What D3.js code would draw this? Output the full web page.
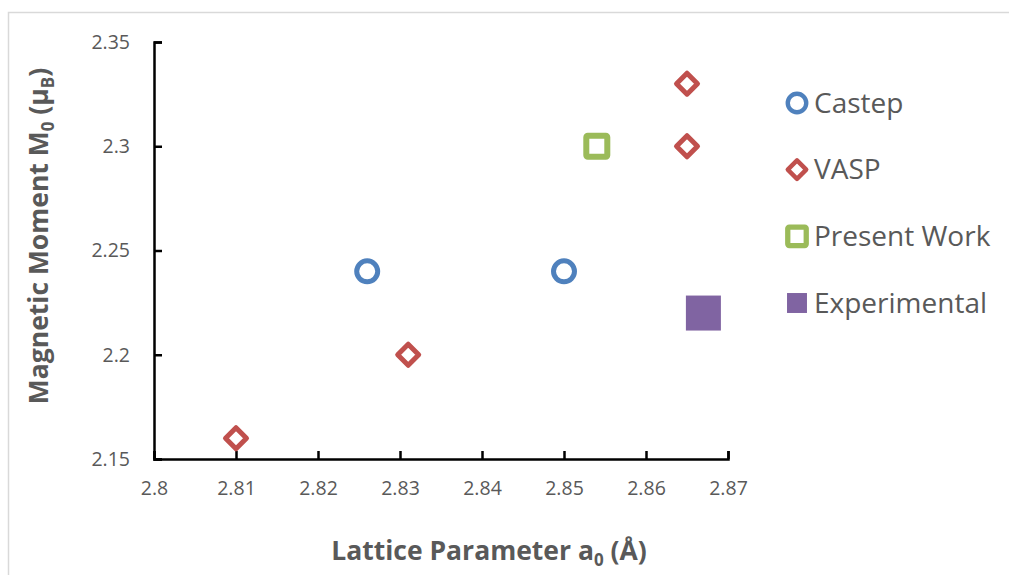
<!DOCTYPE html>
<html>
<head>
<meta charset="utf-8">
<script src="https://cdn.jsdelivr.net/npm/d3@7"></script>
<style>
    body { margin: 0; background: #fff; }
    svg { display: block; font-family: "Open Sans", sans-serif; }
</style>
</head>
<body>
<div id="chart"></div>
<script>
// Data
const castepX = [2.826, 2.85];
const castepY = [2.24, 2.24];
const vaspX = [2.81, 2.831, 2.865, 2.865];
const vaspY = [2.16, 2.2, 2.33, 2.3];
const presentX = [2.854];
const presentY = [2.3];
const expX = [2.867];
const expY = [2.22];

const xTicks = [2.8, 2.81, 2.82, 2.83, 2.84, 2.85, 2.86, 2.87];
const yTicks = [2.15, 2.2, 2.25, 2.3, 2.35];
const seriesNames = ['Castep', 'VASP', 'Present Work', 'Experimental'];

const width = 1009;
const height = 575;
const textColor = '#595959';

const svg = d3.select('#chart')
    .append('svg')
    .attr('width', width)
    .attr('height', height);

// chart area border (only top and left show in the picture)
svg.append('rect')
    .attr('x', 8.5)
    .attr('y', 12.5)
    .attr('width', 1200)
    .attr('height', 800)
    .attr('fill', 'none')
    .attr('stroke', '#d9d9d9')
    .attr('stroke-width', 1.5);

const x = d3.scaleLinear().domain([2.8, 2.87]).range([154, 728]);
const y = d3.scaleLinear().domain([2.15, 2.35]).range([459, 42]);

// Axes
const xAxis = d3.axisBottom(x)
    .tickValues(xTicks)
    .tickFormat(d3.format('~g'))
    .tickSize(-8)
    .tickPadding(22);

const yAxis = d3.axisLeft(y)
    .tickValues(yTicks)
    .tickFormat(d3.format('~g'))
    .tickSize(-8)
    .tickPadding(24);

const gx = svg.append('g')
    .attr('transform', `translate(0,${y(2.15)})`)
    .call(xAxis);

const gy = svg.append('g')
    .attr('transform', `translate(${x(2.8)},0)`)
    .call(yAxis);

[gx, gy].forEach(g => {
    g.select('.domain').attr('stroke', '#000').attr('stroke-width', 2.5);
    g.selectAll('.tick line').attr('stroke', '#000').attr('stroke-width', 2.5);
    g.selectAll('.tick text')
        .attr('fill', textColor)
        .attr('font-size', 19.5)
        .attr('font-family', '"Open Sans", sans-serif');
});

// Axis titles
const xTitle = svg.append('text')
    .attr('x', 489)
    .attr('y', 560)
    .attr('text-anchor', 'middle')
    .attr('font-size', 26.5)
    .attr('font-weight', 'bold')
    .attr('fill', textColor);
xTitle.append('tspan').text('Lattice Parameter a');
xTitle.append('tspan').attr('font-size', 17).attr('dy', 6).text('0');
xTitle.append('tspan').attr('dy', -6).text(' (Å)');

const yTitle = svg.append('text')
    .attr('transform', 'translate(48,236) rotate(-90)')
    .attr('text-anchor', 'middle')
    .attr('font-size', 26.5)
    .attr('font-weight', 'bold')
    .attr('fill', textColor);
yTitle.append('tspan').text('Magnetic Moment M');
yTitle.append('tspan').attr('font-size', 17).attr('dy', 6).text('0');
yTitle.append('tspan').attr('dy', -6).text(' (μ');
yTitle.append('tspan').attr('font-size', 17).attr('dy', 6).text('B');
yTitle.append('tspan').attr('dy', -6).text(')');

// Marker drawing helpers
const colors = {
    'Castep': '#4f81bd',
    'VASP': '#c0504d',
    'Present Work': '#9bbb59',
    'Experimental': '#8064a2'
};

function drawMarker(g, name, scale) {
    const c = colors[name];
    const s = scale || 1;
    if (name === 'Castep') {
        g.append('circle').attr('r', 10.5 * s)
            .attr('fill', '#fff').attr('stroke', c).attr('stroke-width', 5 * s);
    } else if (name === 'VASP') {
        const h = 10.5 * s;
        g.append('path').attr('d', `M0,${-h}L${h},0L0,${h}L${-h},0Z`)
            .attr('fill', '#fff').attr('stroke', c).attr('stroke-width', 5 * s)
            .attr('stroke-linejoin', 'round');
    } else if (name === 'Present Work') {
        const h = 10.5 * s;
        g.append('rect').attr('x', -h).attr('y', -h).attr('width', 2 * h).attr('height', 2 * h)
            .attr('rx', 1.5)
            .attr('fill', '#fff').attr('stroke', c).attr('stroke-width', 6 * s);
    } else {
        const h = 17.5 * s;
        g.append('rect').attr('x', -h).attr('y', -h).attr('width', 2 * h).attr('height', 2 * h)
            .attr('fill', c);
    }
}

const series = [
    { name: 'Castep', xs: castepX, ys: castepY },
    { name: 'VASP', xs: vaspX, ys: vaspY },
    { name: 'Present Work', xs: presentX, ys: presentY },
    { name: 'Experimental', xs: expX, ys: expY }
];

const plot = svg.append('g');
series.forEach(sr => {
    sr.xs.forEach((xv, i) => {
        const g = plot.append('g')
            .attr('transform', `translate(${x(xv)},${y(sr.ys[i])})`);
        drawMarker(g, sr.name);
    });
});

// Legend
const legend = svg.append('g');
const legendY = d3.scalePoint().domain(seriesNames).range([103, 303]);
seriesNames.forEach(name => {
    const g = legend.append('g')
        .attr('transform', `translate(797,${legendY(name)})`);
    drawMarker(g, name, name === 'Experimental' ? 0.57 : 0.88);
    g.append('text')
        .attr('x', 17)
        .attr('dy', '0.35em')
        .attr('font-size', 28)
        .attr('fill', textColor)
        .text(name);
});
</script>
</body>
</html>
